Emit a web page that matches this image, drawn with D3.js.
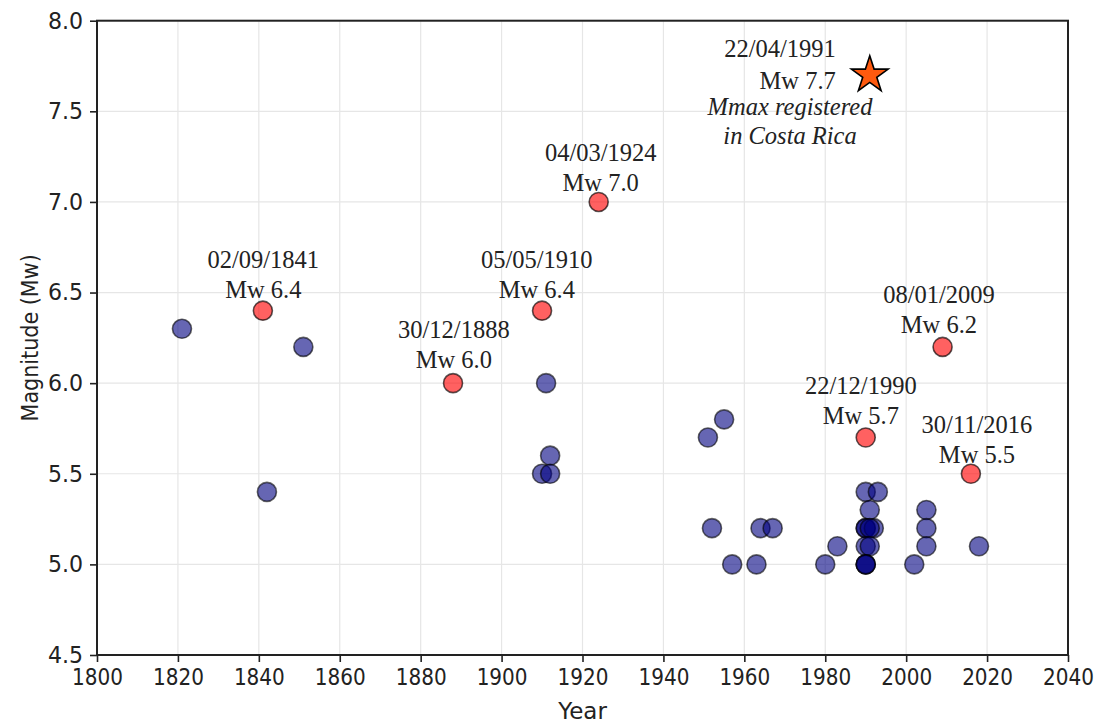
<!DOCTYPE html>
<html>
<head>
<meta charset="utf-8">
<script src="https://cdn.jsdelivr.net/npm/d3@7"></script>
<style>
  html, body { margin: 0; padding: 0; background: #fff; }
  svg { display: block; }
</style>
</head>
<body>
<div id="chart"></div>
<script>
// Catalogue of moderate events (Mw >= 5.0)
const eventYears = [1821, 1842, 1851, 1911, 1912, 1910, 1912, 1951, 1955, 1952, 1964, 1967,
  1957, 1963, 1980, 1983, 1990, 1993, 1991, 1990, 1990, 1992, 1991, 1990, 1991,
  1990, 1990, 1990, 2002, 2005, 2005, 2005, 2018];
const eventMags = [6.3, 5.4, 6.2, 6.0, 5.6, 5.5, 5.5, 5.7, 5.8, 5.2, 5.2, 5.2,
  5.0, 5.0, 5.0, 5.1, 5.4, 5.4, 5.3, 5.2, 5.2, 5.2, 5.2, 5.1, 5.1,
  5.0, 5.0, 5.0, 5.0, 5.3, 5.2, 5.1, 5.1];

// Notable events, annotated with date and magnitude
const majorYears = [1841, 1888, 1910, 1924, 1990, 2009, 2016];
const majorMags = [6.4, 6.0, 6.4, 7.0, 5.7, 6.2, 5.5];
const majorDates = ["02/09/1841", "30/12/1888", "05/05/1910", "04/03/1924",
  "22/12/1990", "08/01/2009", "30/11/2016"];
// Where each annotation sits (year, magnitude of the lower text line)
const majorLabelYears = [1841.1, 1888.2, 1908.7, 1924.5, 1988.8, 2008.1, 2017.5];
const majorLabelMags = [6.468, 6.082, 6.468, 7.061, 5.775, 6.275, 5.561];

// Largest recorded event
const maxYear = 1991;
const maxMag = 7.7;
const maxDate = "22/04/1991";
const maxNote = ["Mmax registered", "in Costa Rica"];

const xTicks = [1800, 1820, 1840, 1860, 1880, 1900, 1920, 1940, 1960, 1980, 2000, 2020, 2040];
const yTicks = [4.5, 5.0, 5.5, 6.0, 6.5, 7.0, 7.5, 8.0];

const W = 1101, H = 724;
const svg = d3.select("#chart").append("svg").attr("width", W).attr("height", H);

const x = d3.scaleLinear().domain([1800, 2040]).range([97, 1068]);
const y = d3.scaleLinear().domain([4.5, 8.0]).range([655, 20.7]);

const sansFont = "DejaVu Sans, sans-serif";
const serifFont = "Liberation Serif, Times New Roman, serif";

// grid
const grid = svg.append("g");
grid.selectAll("line.gx").data(xTicks).join("line")
  .attr("x1", d => x(d)).attr("x2", d => x(d))
  .attr("y1", y(4.5)).attr("y2", y(8.0))
  .attr("stroke", "#e6e6e6").attr("stroke-width", 1.2);
grid.selectAll("line.gy").data(yTicks).join("line")
  .attr("x1", x(1800)).attr("x2", x(2040))
  .attr("y1", d => y(d)).attr("y2", d => y(d))
  .attr("stroke", "#e6e6e6").attr("stroke-width", 1.2);

// axes
const xAxis = svg.append("g").attr("transform", `translate(0,${y(4.5)})`)
  .call(d3.axisBottom(x).tickValues(xTicks).tickFormat(d3.format("d")).tickSize(7).tickPadding(6));
const yAxis = svg.append("g").attr("transform", `translate(${x(1800)},0)`)
  .call(d3.axisLeft(y).tickValues(yTicks).tickFormat(d3.format(".1f")).tickSize(7).tickPadding(7));

[xAxis, yAxis].forEach(g => {
  g.select(".domain").remove();
  g.selectAll(".tick line").attr("stroke", "#222").attr("stroke-width", 1.6);
  g.selectAll(".tick text").attr("fill", "#222").style("font-family", sansFont).style("font-size", "23px");
});
xAxis.selectAll(".tick text").attr("transform", "scale(0.87,1)").attr("dy", "0.72em");
yAxis.selectAll(".tick text").each(function () {
  const t = d3.select(this);
  const tx = +t.attr("x");
  t.attr("transform", `translate(${tx},0) scale(0.96,1)`).attr("x", 0);
});

// frame
svg.append("rect")
  .attr("x", x(1800)).attr("y", y(8.0))
  .attr("width", x(2040) - x(1800)).attr("height", y(4.5) - y(8.0))
  .attr("fill", "none").attr("stroke", "#222").attr("stroke-width", 2);

// axis titles
svg.append("text")
  .attr("x", (x(1800) + x(2040)) / 2).attr("y", 719)
  .attr("text-anchor", "middle")
  .style("font-family", sansFont).style("font-size", "23px").attr("fill", "#222")
  .text("Year");
svg.append("text")
  .attr("transform", `translate(38,${(y(4.5) + y(8.0)) / 2}) rotate(-90) scale(0.9,1)`)
  .attr("text-anchor", "middle")
  .style("font-family", sansFont).style("font-size", "23px").attr("fill", "#222")
  .text("Magnitude (Mw)");

// catalogue points
const events = eventYears.map((yr, i) => ({ yr, m: eventMags[i] }));
svg.append("g").selectAll("circle").data(events).join("circle")
  .attr("cx", d => x(d.yr)).attr("cy", d => y(d.m)).attr("r", 9.5)
  .attr("fill", "#000080").attr("fill-opacity", 0.6)
  .attr("stroke", "#000").attr("stroke-opacity", 0.6).attr("stroke-width", 1.6);

// notable events
const majors = majorYears.map((yr, i) => ({
  yr, m: majorMags[i], date: majorDates[i], ly: majorLabelYears[i], lm: majorLabelMags[i]
}));
svg.append("g").selectAll("circle").data(majors).join("circle")
  .attr("cx", d => x(d.yr)).attr("cy", d => y(d.m)).attr("r", 9.5)
  .attr("fill", "#ff0000").attr("fill-opacity", 0.62)
  .attr("stroke", "#000").attr("stroke-opacity", 0.65).attr("stroke-width", 1.6);

const lab = svg.append("g").style("font-family", serifFont).style("font-size", "24.5px")
  .attr("fill", "#222").attr("text-anchor", "middle");
majors.forEach(d => {
  lab.append("text").attr("x", x(d.ly)).attr("y", y(d.lm) - 30).text(d.date);
  lab.append("text").attr("x", x(d.ly)).attr("y", y(d.lm)).text("Mw " + d3.format(".1f")(d.m));
});

// maximum event star and its notes
svg.append("path")
  .attr("d", d3.symbol(d3.symbolStar, 420)())
  .attr("transform", `translate(${x(maxYear)},${y(maxMag)})`)
  .attr("fill", "#ff5a0f").attr("stroke", "#000").attr("stroke-width", 1.6)
  .attr("stroke-linejoin", "miter");

const starLab = svg.append("g").style("font-family", serifFont).style("font-size", "24.5px").attr("fill", "#222");
starLab.append("text").attr("x", x(1982.6)).attr("y", y(7.622) - 32).attr("text-anchor", "end").text(maxDate);
starLab.append("text").attr("x", x(1982.6)).attr("y", y(7.622)).attr("text-anchor", "end").text("Mw " + d3.format(".1f")(maxMag));
maxNote.forEach((t, i) => {
  starLab.append("text").attr("x", x(1971.3)).attr("y", y(7.622) + 26 + i * 29)
    .attr("text-anchor", "middle").style("font-style", "italic").text(t);
});
</script>
</body>
</html>
